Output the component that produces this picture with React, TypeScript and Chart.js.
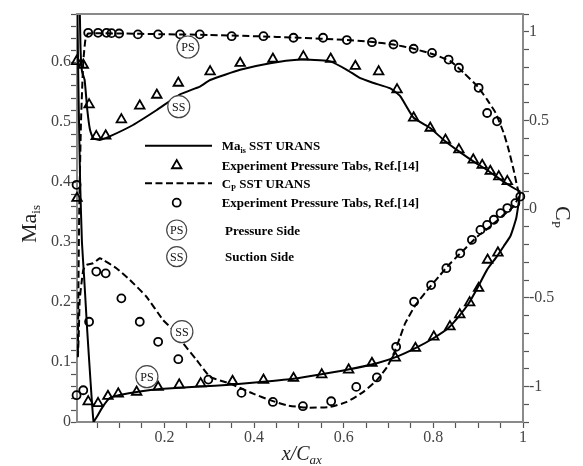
import React, { useEffect, useRef } from 'react';
import { Chart, registerables } from 'chart.js';

Chart.register(...registerables);

const SERIF = '"Liberation Serif", "Times New Roman", Times, serif';

// ---------- Ma_is, SST URANS (solid line): pressure side TE -> LE, then suction side LE -> TE
const maCfdX = [0.994, 0.985, 0.972, 0.957, 0.942, 0.920, 0.898, 0.879, 0.860, 0.834, 0.801, 0.760, 0.719, 0.674, 0.607, 0.547, 0.488, 0.421, 0.346, 0.279, 0.190, 0.145, 0.100, 0.078, 0.063, 0.048, 0.042,
  0.035, 0.028, 0.021, 0.016, 0.012, 0.009, 0.007, 0.006, 0.010, 0.013, 0.016, 0.022, 0.028, 0.034, 0.041, 0.056, 0.078, 0.130, 0.183, 0.235, 0.279, 0.302, 0.369, 0.436, 0.503, 0.547, 0.570, 0.607, 0.637, 0.667, 0.704, 0.726, 0.756, 0.793, 0.823, 0.857, 0.890, 0.920, 0.950, 0.979, 0.994];
const maCfdY = [0.384, 0.340, 0.310, 0.293, 0.276, 0.254, 0.223, 0.198, 0.179, 0.157, 0.140, 0.123, 0.109, 0.098, 0.087, 0.079, 0.072, 0.067, 0.062, 0.059, 0.055, 0.051, 0.045, 0.040, 0.026, 0.007, 0.000,
  0.070, 0.150, 0.240, 0.300, 0.400, 0.520, 0.620, 0.720, 0.720, 0.620, 0.585, 0.570, 0.520, 0.487, 0.473, 0.470, 0.476, 0.495, 0.520, 0.546, 0.559, 0.570, 0.587, 0.598, 0.604, 0.603, 0.601, 0.587, 0.573, 0.565, 0.556, 0.543, 0.507, 0.490, 0.470, 0.451, 0.434, 0.420, 0.404, 0.390, 0.384];

// ---------- Ma_is experiment (triangles)
const maExpX = [0.004, 0.019, 0.032, 0.048, 0.069, 0.104, 0.145, 0.183, 0.231, 0.302, 0.369, 0.442, 0.510, 0.571, 0.626, 0.678, 0.719, 0.756, 0.793, 0.827, 0.857, 0.889, 0.909, 0.927, 0.946, 0.965,
  0.005, 0.030, 0.052, 0.074, 0.097, 0.138, 0.186, 0.233, 0.281, 0.352, 0.421, 0.488, 0.551, 0.611, 0.663, 0.715, 0.760, 0.801, 0.837, 0.859, 0.881, 0.901, 0.921, 0.944];
const maExpY = [0.601, 0.595, 0.529, 0.476, 0.477, 0.504, 0.527, 0.545, 0.565, 0.584, 0.598, 0.605, 0.609, 0.605, 0.593, 0.584, 0.554, 0.507, 0.490, 0.470, 0.454, 0.437, 0.428, 0.418, 0.409, 0.401,
  0.373, 0.034, 0.031, 0.043, 0.047, 0.050, 0.058, 0.062, 0.064, 0.068, 0.070, 0.073, 0.079, 0.087, 0.098, 0.107, 0.123, 0.142, 0.159, 0.179, 0.199, 0.223, 0.270, 0.282];

// ---------- Cp, SST URANS (dashed line)
const cpCfdX = [0.991, 0.987, 0.979, 0.968, 0.957, 0.939, 0.920, 0.898, 0.868, 0.838, 0.801, 0.756, 0.711, 0.660, 0.600, 0.500, 0.400, 0.300, 0.200, 0.100, 0.050, 0.030, 0.024, 0.019, 0.014, 0.010, 0.008, 0.007, 0.009, 0.011,
  0.015, 0.019, 0.026, 0.041, 0.056, 0.063, 0.093, 0.123, 0.160, 0.197, 0.220, 0.242, 0.272, 0.302, 0.346, 0.398, 0.436, 0.473, 0.518, 0.570, 0.607, 0.644, 0.674, 0.697, 0.715, 0.726, 0.737, 0.760, 0.793, 0.812, 0.838, 0.868, 0.898, 0.927, 0.957, 0.979, 0.991];
const cpCfdY = [0.090, 0.128, 0.222, 0.335, 0.429, 0.542, 0.617, 0.693, 0.768, 0.834, 0.872, 0.904, 0.928, 0.943, 0.955, 0.966, 0.975, 0.982, 0.986, 0.990, 0.992, 0.990, 0.960, 0.830, 0.500, 0.000, -0.500, -0.830, -0.700, -0.512,
  -0.418, -0.343, -0.315, -0.305, -0.277, -0.286, -0.333, -0.399, -0.494, -0.625, -0.682, -0.757, -0.851, -0.946, -0.983, -1.040, -1.077, -1.106, -1.119, -1.115, -1.087, -1.030, -0.964, -0.889, -0.795, -0.720, -0.644, -0.541, -0.437, -0.381, -0.305, -0.230, -0.155, -0.098, -0.032, 0.015, 0.071];

// ---------- Cp experiment (circles)
const cpExpX = [0.004, 0.030, 0.052, 0.071, 0.082, 0.099, 0.141, 0.186, 0.235, 0.279, 0.350, 0.421, 0.488, 0.554, 0.607, 0.663, 0.711, 0.756, 0.797, 0.834, 0.857, 0.901, 0.920, 0.942, 0.994,
  0.004, 0.019, 0.032, 0.048, 0.069, 0.104, 0.145, 0.186, 0.231, 0.298, 0.372, 0.442, 0.509, 0.572, 0.628, 0.674, 0.717, 0.757, 0.795, 0.829, 0.860, 0.886, 0.905, 0.920, 0.935, 0.950, 0.965, 0.983];
const cpExpY = [0.137, 0.994, 0.994, 0.994, 0.992, 0.990, 0.985, 0.985, 0.985, 0.985, 0.975, 0.975, 0.966, 0.966, 0.953, 0.941, 0.928, 0.904, 0.881, 0.843, 0.797, 0.684, 0.542, 0.495, 0.071,
  -1.049, -1.021, -0.635, -0.352, -0.362, -0.503, -0.635, -0.748, -0.846, -0.961, -1.036, -1.087, -1.111, -1.083, -1.002, -0.949, -0.776, -0.522, -0.428, -0.333, -0.249, -0.173, -0.117, -0.089, -0.060, -0.023, 0.006, 0.034];

// ---------- ticks
const xTickValues = [0.05, 0.1, 0.15, 0.2, 0.25, 0.3, 0.35, 0.4, 0.45, 0.5, 0.55, 0.6, 0.65, 0.7, 0.75, 0.8, 0.85, 0.9, 0.95, 1];
const xMajorValues = [0.2, 0.4, 0.6, 0.8, 1];
const xMajorLabels = ['0.2', '0.4', '0.6', '0.8', '1'];
const maTickValues = [0, 0.02, 0.04, 0.06, 0.08, 0.1, 0.12, 0.14, 0.16, 0.18, 0.2, 0.22, 0.24, 0.26, 0.28, 0.3, 0.32, 0.34, 0.36, 0.38, 0.4, 0.42, 0.44, 0.46, 0.48, 0.5, 0.52, 0.54, 0.56, 0.58, 0.6, 0.62, 0.64, 0.66, 0.68];
const maMajorValues = [0, 0.1, 0.2, 0.3, 0.4, 0.5, 0.6];
const maMajorLabels = ['0', '0.1', '0.2', '0.3', '0.4', '0.5', '0.6'];
const cpTickValues = [-1.2, -1.1, -1, -0.9, -0.8, -0.7, -0.6, -0.5, -0.4, -0.3, -0.2, -0.1, 0, 0.1, 0.2, 0.3, 0.4, 0.5, 0.6, 0.7, 0.8, 0.9, 1, 1.1];
const cpMajorValues = [-1, -0.5, 0, 0.5, 1];
const cpMajorLabels = ['-1', '-0.5', '0', '0.5', '1'];

// ---------- circled side annotations (in x/Cax, Ma_is coordinates)
const sideLabelText = ['PS', 'SS', 'SS', 'PS'];
const sideLabelX = [0.2525, 0.232, 0.239, 0.161];
const sideLabelMa = [0.625, 0.5255, 0.1505, 0.0755];

const pairs = (xs: number[], ys: number[]) => xs.map((x, i) => ({ x, y: ys[i] }));
const labelFor = (v: number, majors: number[], labels: string[]) => {
  const i = majors.findIndex((m) => Math.abs(m - v) < 1e-6);
  return i >= 0 ? labels[i] : '';
};

function circled(ctx: CanvasRenderingContext2D, cx: number, cy: number, r: number, text: string) {
  ctx.save();
  ctx.beginPath();
  ctx.arc(cx, cy, r, 0, Math.PI * 2);
  ctx.fillStyle = '#fff';
  ctx.fill();
  ctx.strokeStyle = '#444';
  ctx.lineWidth = 1.2;
  ctx.stroke();
  ctx.fillStyle = '#111';
  ctx.font = `12px ${SERIF}`;
  ctx.textAlign = 'center';
  ctx.textBaseline = 'alphabetic';
  ctx.fillText(text, cx, cy + 4.3);
  ctx.restore();
}

function drawTriangle(ctx: CanvasRenderingContext2D, x: number, y: number, r: number) {
  ctx.beginPath();
  ctx.moveTo(x, y - r);
  ctx.lineTo(x + 0.866 * r, y + 0.5 * r);
  ctx.lineTo(x - 0.866 * r, y + 0.5 * r);
  ctx.closePath();
  ctx.stroke();
}

function drawParts(ctx: CanvasRenderingContext2D, x: number, y: number, parts: [string, string, number][]) {
  let cx = x;
  for (const [t, f, dy] of parts) {
    ctx.font = f;
    ctx.fillText(t, cx, y + dy);
    cx += ctx.measureText(t).width;
  }
}
function partsWidth(ctx: CanvasRenderingContext2D, parts: [string, string, number][]) {
  let w = 0;
  for (const [t, f] of parts) {
    ctx.font = f;
    w += ctx.measureText(t).width;
  }
  return w;
}

const overlayPlugin = {
  id: 'overlay',
  afterDatasetsDraw(chart: any) {
    const { ctx, chartArea: a, scales } = chart;
    ctx.save();
    // frame (top + right)
    ctx.strokeStyle = '#8a8a8a';
    ctx.lineWidth = 2;
    ctx.beginPath();
    ctx.moveTo(a.left, a.top);
    ctx.lineTo(a.right, a.top);
    ctx.stroke();

    // circled PS / SS annotations
    for (let i = 0; i < sideLabelText.length; i++) {
      circled(ctx, scales.x.getPixelForValue(sideLabelX[i]), scales.y.getPixelForValue(sideLabelMa[i]), 11, sideLabelText[i]);
    }

    // legend
    const lx0 = 145, lx1 = 212, tx = 221.7;
    const bold = `bold 13px ${SERIF}`;
    const boldSub = `bold 8px ${SERIF}`;
    ctx.fillStyle = '#000';
    ctx.strokeStyle = '#000';
    ctx.textAlign = 'left';
    ctx.textBaseline = 'alphabetic';

    ctx.lineWidth = 2;
    ctx.setLineDash([]);
    ctx.beginPath(); ctx.moveTo(lx0, 145.7); ctx.lineTo(lx1, 145.7); ctx.stroke();
    drawParts(ctx, tx, 150.2, [['Ma', bold, 0], ['is', boldSub, 3], [' SST URANS', bold, 0]]);

    ctx.lineWidth = 1.8;
    drawTriangle(ctx, 176.7, 165.5, 5.5);
    drawParts(ctx, tx, 169.5, [['Experiment Pressure Tabs, Ref.[14]', bold, 0]]);

    ctx.lineWidth = 2;
    ctx.setLineDash([7, 3.5]);
    ctx.beginPath(); ctx.moveTo(lx0, 183.3); ctx.lineTo(lx1, 183.3); ctx.stroke();
    ctx.setLineDash([]);
    drawParts(ctx, tx, 187.8, [['C', bold, 0], ['P', boldSub, 3], [' SST URANS', bold, 0]]);

    ctx.lineWidth = 1.8;
    ctx.beginPath(); ctx.arc(176.7, 202.7, 4, 0, Math.PI * 2); ctx.stroke();
    drawParts(ctx, tx, 207.2, [['Experiment Pressure Tabs, Ref.[14]', bold, 0]]);

    circled(ctx, 176.7, 230, 10, 'PS');
    ctx.fillStyle = '#000';
    drawParts(ctx, 225, 234.5, [['Pressure Side', bold, 0]]);
    circled(ctx, 176.7, 256.7, 10, 'SS');
    ctx.fillStyle = '#000';
    drawParts(ctx, 225, 261.2, [['Suction Side', bold, 0]]);

    // axis titles
    ctx.fillStyle = '#222';
    // left: Ma_is (rotated)
    {
      const parts: [string, string, number][] = [['Ma', `22px ${SERIF}`, 0], ['is', `13px ${SERIF}`, 4]];
      const w = partsWidth(ctx, parts);
      ctx.save();
      ctx.translate(36, 224);
      ctx.rotate(-Math.PI / 2);
      drawParts(ctx, -w / 2, 0, parts);
      ctx.restore();
    }
    // right: C_P (rotated)
    {
      const parts: [string, string, number][] = [['C', `22px ${SERIF}`, 0], ['P', `13px ${SERIF}`, 4]];
      const w = partsWidth(ctx, parts);
      ctx.save();
      ctx.translate(556, 217);
      ctx.rotate(Math.PI / 2);
      drawParts(ctx, -w / 2, 0, parts);
      ctx.restore();
    }
    // bottom: x/C_ax
    drawParts(ctx, 281.7, 460, [['x/C', `italic 20px ${SERIF}`, 0], ['ax', `italic 13px ${SERIF}`, 4]]);
    ctx.restore();
  },
};

export default function App() {
  const ref = useRef<HTMLCanvasElement | null>(null);
  useEffect(() => {
    if (!ref.current) return;
    const tickFont = { family: SERIF, size: 16 };
    const chart = new Chart(ref.current, {
      type: 'scatter',
      data: {
        datasets: [
          {
            label: 'Ma_is SST URANS',
            data: pairs(maCfdX, maCfdY),
            showLine: true,
            borderColor: '#000',
            borderWidth: 2,
            pointRadius: 0,
            tension: 0.15,
            yAxisID: 'y',
          },
          {
            label: 'Experiment Pressure Tabs, Ref.[14] (Ma)',
            data: pairs(maExpX, maExpY),
            showLine: false,
            pointStyle: 'triangle',
            pointRadius: 5.5,
            pointBorderWidth: 1.8,
            pointBorderColor: '#000',
            pointBackgroundColor: 'rgba(0,0,0,0)',
            yAxisID: 'y',
            clip: false,
          },
          {
            label: 'Cp SST URANS',
            data: pairs(cpCfdX, cpCfdY),
            showLine: true,
            borderColor: '#000',
            borderWidth: 2,
            borderDash: [7, 3.5],
            pointRadius: 0,
            tension: 0.15,
            yAxisID: 'y2',
          },
          {
            label: 'Experiment Pressure Tabs, Ref.[14] (Cp)',
            data: pairs(cpExpX, cpExpY),
            showLine: false,
            pointStyle: 'circle',
            pointRadius: 4,
            pointBorderWidth: 1.8,
            pointBorderColor: '#000',
            pointBackgroundColor: 'rgba(0,0,0,0)',
            yAxisID: 'y2',
            clip: false,
          },
        ],
      } as any,
      options: {
        animation: false,
        responsive: false,
        maintainAspectRatio: false,
        events: [],
        layout: { padding: { top: 14, left: 0, right: 0, bottom: 0 } },
        plugins: { legend: { display: false }, tooltip: { enabled: false }, title: { display: false } },
        scales: {
          x: {
            type: 'linear',
            position: 'bottom',
            min: 0.005,
            max: 1,
            afterBuildTicks: (s: any) => { s.ticks = xTickValues.map((v) => ({ value: v })); },
            afterFit: (s: any) => { s.height = 44; },
            ticks: {
              autoSkip: false, maxRotation: 0, padding: 0, color: '#444', font: tickFont,
              callback: (v: any) => labelFor(Number(v), xMajorValues, xMajorLabels),
            },
            grid: { drawOnChartArea: false, drawTicks: true, tickLength: 6, tickColor: '#555', tickWidth: 1.2 },
            border: { display: true, color: '#8a8a8a', width: 2 },
          },
          y: {
            type: 'linear',
            position: 'left',
            min: 0,
            max: 0.68,
            afterBuildTicks: (s: any) => { s.ticks = maTickValues.map((v) => ({ value: v })); },
            afterFit: (s: any) => { s.width = 77; },
            ticks: {
              autoSkip: false, padding: 0, color: '#444', font: tickFont,
              callback: (v: any) => labelFor(Number(v), maMajorValues, maMajorLabels),
            },
            grid: { drawOnChartArea: false, drawTicks: true, tickLength: 6, tickColor: '#555', tickWidth: 1.2 },
            border: { display: true, color: '#8a8a8a', width: 2 },
          },
          y2: {
            type: 'linear',
            position: 'right',
            min: -1.2,
            max: 1.1,
            afterBuildTicks: (s: any) => { s.ticks = cpTickValues.map((v) => ({ value: v })); },
            afterFit: (s: any) => { s.width = 60; },
            ticks: {
              autoSkip: false, padding: 0, color: '#444', font: tickFont,
              callback: (v: any) => labelFor(Number(v), cpMajorValues, cpMajorLabels),
            },
            grid: { drawOnChartArea: false, drawTicks: true, tickLength: 6, tickColor: '#555', tickWidth: 1.2 },
            border: { display: true, color: '#8a8a8a', width: 2 },
          },
        },
      } as any,
      plugins: [overlayPlugin],
    });
    return () => chart.destroy();
  }, []);

  return (
    <div style={{ position: 'fixed', left: 0, top: 0, width: 583, height: 466, background: '#fff' }}>
      <canvas ref={ref} width={583} height={466} style={{ width: 583, height: 466, display: 'block' }} />
    </div>
  );
}
